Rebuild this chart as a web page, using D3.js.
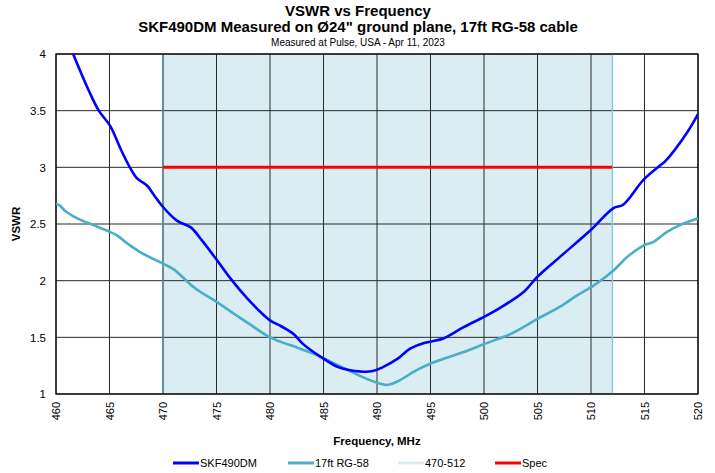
<!DOCTYPE html>
<html>
<head>
<meta charset="utf-8">
<script src="https://cdn.jsdelivr.net/npm/d3@7"></script>
<style>
  body { margin: 0; background: #fff; }
  text { font-family: "Liberation Sans", Arial, sans-serif; fill: #000; }
</style>
</head>
<body>
<svg id="chart" width="715" height="473"></svg>
<script>
// values
const skfFreq = [461.6, 463.05, 464, 465.1, 466.0, 466.9, 467.6, 468.5, 469.2, 470, 471.3, 472.6, 473.6, 475.05, 476.3, 478.2, 480, 481, 482.2, 483.1, 484.7, 486.3, 487.5, 489.5, 490.6, 491.9, 493.1, 494.4, 496.2, 498.1, 500, 501.5, 503.7, 504.95, 507.1, 509.9, 512.1, 513.0, 514.9, 516.5, 516.9, 519.0, 520];
const skfVswr = [4.0, 3.68, 3.50, 3.36, 3.17, 3.0, 2.90, 2.84, 2.75, 2.65, 2.53, 2.47, 2.36, 2.18, 2.02, 1.81, 1.65, 1.60, 1.53, 1.44, 1.33, 1.24, 1.21, 1.20, 1.24, 1.31, 1.40, 1.45, 1.49, 1.59, 1.68, 1.76, 1.90, 2.03, 2.21, 2.44, 2.64, 2.67, 2.89, 3.02, 3.05, 3.31, 3.47];

const rgFreq = [460, 460.4, 460.8, 462, 463.5, 464.8, 465.7, 466.5, 467.9, 470, 471, 472.9, 475.05, 476.6, 478.2, 480, 482.8, 484.7, 487.5, 489.4, 490.9, 491.9, 493.7, 495.3, 498.1, 500, 502.5, 504.95, 507.1, 508.7, 510.3, 512.1, 513.4, 514.9, 515.8, 517.1, 518.3, 520];
const rgVswr = [2.68, 2.66, 2.62, 2.55, 2.49, 2.44, 2.40, 2.34, 2.25, 2.15, 2.10, 1.94, 1.81, 1.71, 1.61, 1.50, 1.40, 1.33, 1.20, 1.12, 1.08, 1.11, 1.21, 1.28, 1.37, 1.44, 1.53, 1.66, 1.77, 1.87, 1.96, 2.09, 2.21, 2.31, 2.34, 2.43, 2.49, 2.55];

const bandRange = [470, 512];
const specFreq = [470, 512];
const specVswr = 3;

const xTicks = d3.range(460, 521, 5);
const yTicks = [1, 1.5, 2, 2.5, 3, 3.5, 4];

const legendNames = ["SKF490DM", "17ft RG-58", "470-512", "Spec"];
const legendColors = ["#0000ff", "#4aaec6", "#daedf3", "#ff0000"];

const svg = d3.select("#chart");
const m = {left: 56, right: 17, top: 54, bottom: 79};
const W = 715, H = 473;

const x = d3.scaleLinear().domain([460, 520]).range([m.left, W - m.right]);
const y = d3.scaleLinear().domain([1, 4]).range([H - m.bottom, m.top]);

// titles
svg.append("text").attr("x", 358).attr("y", 16).attr("text-anchor", "middle")
  .style("font-weight", "bold").style("font-size", "15px").text("VSWR vs Frequency");
svg.append("text").attr("x", 358).attr("y", 32).attr("text-anchor", "middle")
  .style("font-weight", "bold").style("font-size", "15px")
  .text("SKF490DM Measured on Ø24\" ground plane, 17ft RG-58 cable");
svg.append("text").attr("x", 358).attr("y", 46).attr("text-anchor", "middle")
  .style("font-size", "10px").text("Measured at Pulse, USA - Apr 11, 2023");

// shaded band
svg.append("rect")
  .attr("x", x(bandRange[0])).attr("y", y(4))
  .attr("width", x(bandRange[1]) - x(bandRange[0]))
  .attr("height", y(1) - y(4))
  .attr("fill", legendColors[2]);

// grid
const grid = svg.append("g");
grid.selectAll("line.v").data(xTicks).join("line")
  .attr("x1", d => x(d)).attr("x2", d => x(d))
  .attr("y1", y(1)).attr("y2", y(4))
  .attr("stroke", "#2a2a2a").attr("stroke-width", 1);
grid.selectAll("line.h").data(yTicks).join("line")
  .attr("x1", x(460)).attr("x2", x(520))
  .attr("y1", d => y(d)).attr("y2", d => y(d))
  .attr("stroke", "#2a2a2a").attr("stroke-width", 1);

// band edges
svg.append("line").attr("x1", x(bandRange[0])).attr("x2", x(bandRange[0]))
  .attr("y1", y(1)).attr("y2", y(4)).attr("stroke", "#5a8f9c").attr("stroke-width", 1.5);
svg.append("line").attr("x1", x(bandRange[1])).attr("x2", x(bandRange[1]))
  .attr("y1", y(1)).attr("y2", y(4)).attr("stroke", "#8ccbdc").attr("stroke-width", 1.5);

// frame
svg.append("rect").attr("x", x(460)).attr("y", y(4))
  .attr("width", x(520) - x(460)).attr("height", y(1) - y(4))
  .attr("fill", "none").attr("stroke", "#000").attr("stroke-width", 1.2);

// axes labels
const xAxis = svg.append("g").attr("transform", `translate(0,${y(1)})`)
  .call(d3.axisBottom(x).tickValues(xTicks).tickSize(0).tickPadding(0).tickFormat(d3.format("d")));
xAxis.select(".domain").remove();
xAxis.selectAll("text")
  .attr("transform", "rotate(-90)")
  .attr("x", -8).attr("y", 0).attr("dy", "0.35em")
  .attr("text-anchor", "end")
  .style("font-size", "11px").style("font-family", "Liberation Sans, Arial, sans-serif");

const yAxis = svg.append("g").attr("transform", `translate(${x(460)},0)`)
  .call(d3.axisLeft(y).tickValues(yTicks).tickSize(0).tickPadding(10).tickFormat(d3.format("")));
yAxis.select(".domain").remove();
yAxis.selectAll("text").style("font-size", "11.5px").style("font-family", "Liberation Sans, Arial, sans-serif");

svg.append("text").attr("x", (x(460) + x(520)) / 2).attr("y", 445)
  .attr("text-anchor", "middle").style("font-weight", "bold").style("font-size", "11.5px")
  .text("Frequency, MHz");
svg.append("text").attr("transform", `translate(20,${(y(1) + y(4)) / 2}) rotate(-90)`)
  .attr("text-anchor", "middle").style("font-weight", "bold").style("font-size", "11.5px")
  .text("VSWR");

// curves
const clip = svg.append("clipPath").attr("id", "plotclip").append("rect")
  .attr("x", x(460)).attr("y", y(4)).attr("width", x(520) - x(460)).attr("height", y(1) - y(4));

const line = d3.line().x(d => x(d[0])).y(d => y(d[1])).curve(d3.curveCatmullRom);

svg.append("path").datum(rgFreq.map((f, i) => [f, rgVswr[i]]))
  .attr("d", line).attr("fill", "none").attr("stroke", legendColors[1])
  .attr("stroke-width", 2.6).attr("clip-path", "url(#plotclip)");
svg.append("path").datum(skfFreq.map((f, i) => [f, skfVswr[i]]))
  .attr("d", line).attr("fill", "none").attr("stroke", legendColors[0])
  .attr("stroke-width", 2.6).attr("clip-path", "url(#plotclip)");

svg.append("line").attr("x1", x(specFreq[0])).attr("x2", x(specFreq[1]))
  .attr("y1", y(specVswr)).attr("y2", y(specVswr))
  .attr("stroke", legendColors[3]).attr("stroke-width", 3);

// legend
const legendX = [173, 288, 398, 495];
const lg = svg.append("g").attr("transform", "translate(0,463)");
legendNames.forEach((name, i) => {
  lg.append("line").attr("x1", legendX[i]).attr("x2", legendX[i] + 26)
    .attr("y1", 0).attr("y2", 0).attr("stroke", legendColors[i]).attr("stroke-width", 3);
  lg.append("text").attr("x", legendX[i] + 27).attr("y", 0).attr("dy", "0.35em")
    .style("font-size", "11px").text(name);
});
</script>
</body>
</html>
